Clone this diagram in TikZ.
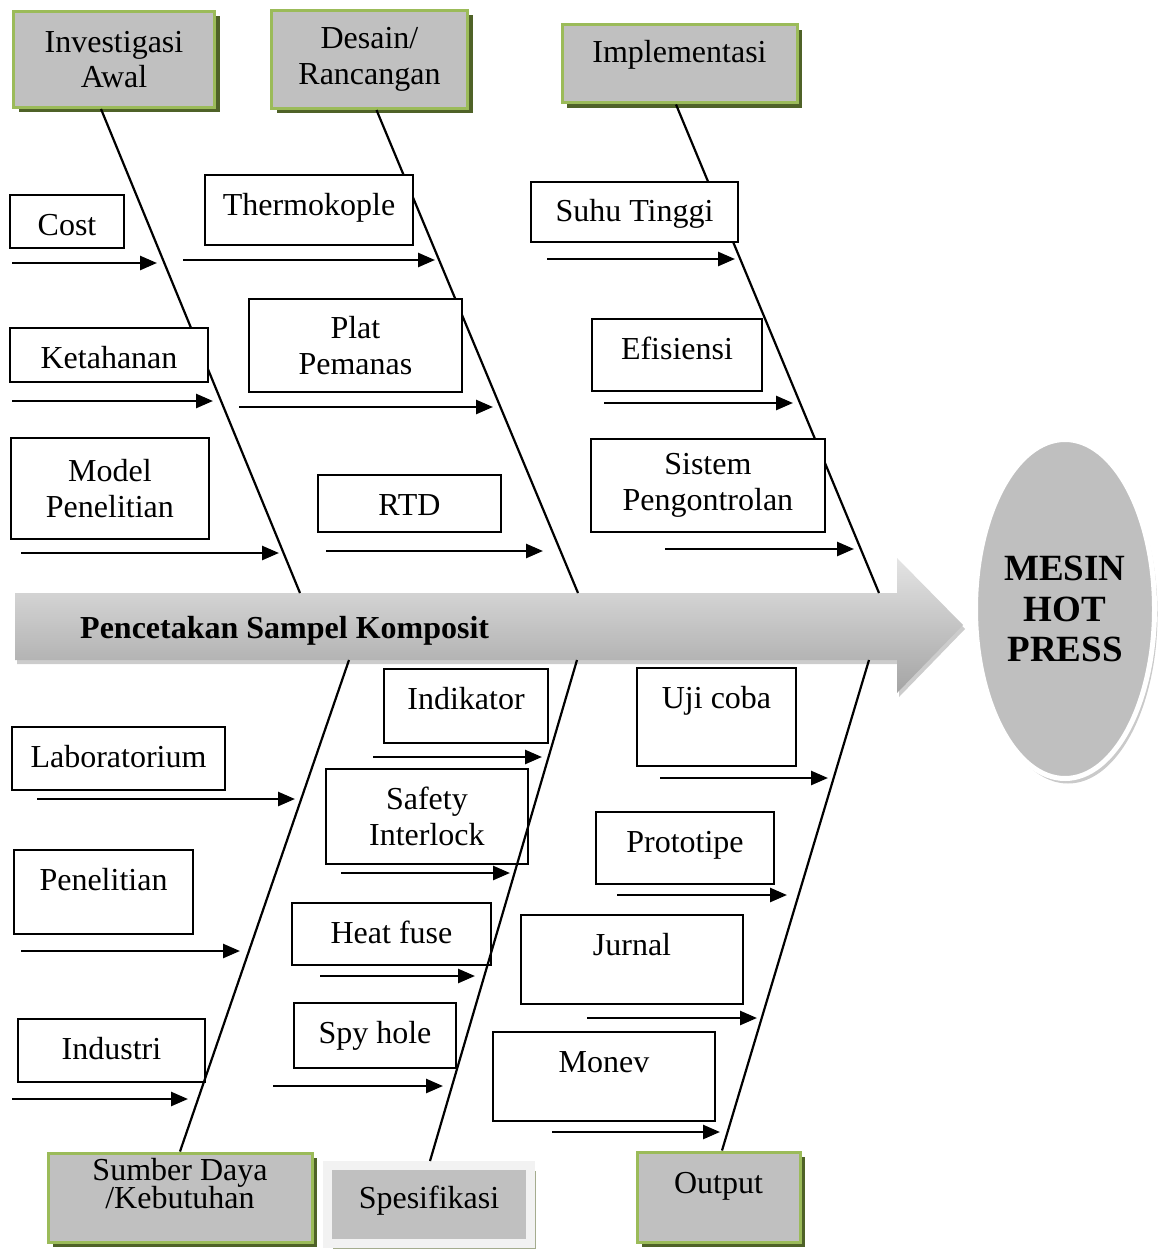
\documentclass[tikz,border=0pt]{standalone}
\usepackage{fontspec}
\setmainfont{Liberation Serif}
\usetikzlibrary{arrows.meta,positioning,calc,shadows,shapes.geometric}
\definecolor{catfill}{HTML}{C0C0C0}
\definecolor{catline}{HTML}{9BBB59}
\definecolor{catshade}{HTML}{4F6228}
\definecolor{specline}{HTML}{F2F2F2}
\definecolor{specshade}{HTML}{A4AC8E}
\definecolor{goalfill}{HTML}{BFBFBF}
\definecolor{spinetop}{HTML}{E4E4E4}
\definecolor{spinemid}{HTML}{C2C2C2}
\definecolor{spinebot}{HTML}{A4A4A4}
\newcommand{\tightlines}{\lineskiplimit=-20pt\relax}
\tikzset{
  >={Triangle[length=17pt,width=14pt]},
  every node/.style={font=\fontsize{32}{36}\selectfont,text=black,inner sep=0pt},
  box/.style={draw=black,line width=1.8pt,fill=white,anchor=base,text height=40pt},
  mbox/.style={draw=black,line width=1.8pt,fill=white,anchor=north west,align=center},
  catbox/.style={draw=catline,line width=3pt,fill=catfill,align=center,
    drop shadow={shadow xshift=5pt,shadow yshift=-5pt,fill=catshade,opacity=1}},
  specbox/.style={draw=specline,line width=9pt,fill=catfill,anchor=base,
    drop shadow={shadow xshift=5pt,shadow yshift=-5pt,fill=specshade,opacity=1}},
  goal/.style={ellipse,draw=white,line width=5pt,fill=goalfill,align=center,
    font=\fontsize{37}{40.5}\selectfont\bfseries,
    drop shadow={shadow xshift=3pt,shadow yshift=-5pt,fill=black!35,opacity=.6}},
  bone/.style={line width=2.2pt},
  arr/.style={->,line width=2.6pt},
}

\begin{document}
\begin{tikzpicture}[x=1pt,y=-1pt]
  \useasboundingbox (0,0) rectangle (1163,1252);
  \shade[top color=spinetop,middle color=spinemid,bottom color=spinebot,
    drop shadow={shadow xshift=2pt,shadow yshift=-4pt,fill=black!40,opacity=.5}]
    (15,593) -- (897,593) -- (897,558) -- (963,625) -- (897,693) -- (897,660) -- (15,660) -- cycle;
  \node[font=\fontsize{32}{36}\selectfont\bfseries,anchor=base west] (spine) at (80,638) {Pencetakan Sampel Komposit};
  \coordinate (s1) at (300,593);
  \coordinate (s2) at (578,593);
  \coordinate (s3) at (879,593);
  \coordinate (s4) at (349,660);
  \coordinate (s5) at (577,660);
  \coordinate (s6) at (869,660);

  \node[catbox,anchor=north west,minimum width=201pt,minimum height=96pt,font=\fontsize{32}{35}\selectfont] (inv) at (12,10) {Investigasi\\Awal};
  \node[catbox,anchor=north west,minimum width=196pt,minimum height=98pt] (desain) at (270,9) {Desain/\\Rancangan};
  \node[catbox,anchor=base,minimum width=235pt,text height=38pt,text depth=40pt] (impl) at (679.5,63) {Implementasi};
  \draw[bone] ([xshift=-13pt]inv.south) -- (s1);
  \draw[bone] ([xshift=7pt]desain.south) -- (s2);
  \draw[bone] ([xshift=-3.5pt]impl.south) -- (s3);

  \node[box,minimum width=114pt,text depth=13pt] (cost) at (67,235) {Cost};
  \node[box,minimum width=198pt,text depth=14pt] (keta) at (109,368) {Ketahanan};
  \node[mbox,minimum width=198pt,minimum height=101pt] (model) at (10,437) {Model\\Penelitian};
  \node[box,minimum width=208pt,text depth=30pt] (thermo) at (309,215) {Thermokople};
  \node[mbox,minimum width=213pt,minimum height=93pt] (plat) at (248,298) {Plat\\Pemanas};
  \node[box,minimum width=183pt,text depth=17pt] (rtd) at (409.5,515) {RTD};
  \node[box,minimum width=207pt,text depth=20pt] (suhu) at (634.5,222) {Suhu Tinggi};
  \node[box,minimum width=170pt,text depth=32pt] (efis) at (677,359) {Efisiensi};
  \node[mbox,minimum width=234pt,minimum height=93pt] (sistem) at (590,438) {Sistem\\Pengontrolan};

  \node[catbox,anchor=base,minimum width=264pt,text height=55pt,text depth=34pt,
    font=\fontsize{32}{28}\selectfont\tightlines] (sumber) at (180,1208) {Sumber Daya\\/Kebutuhan};
  \node[specbox,minimum width=203pt,text height=42.5pt,text depth=35.5pt] (spek) at (429,1208) {Spesifikasi};
  \node[catbox,anchor=base,minimum width=163pt,text height=41pt,text depth=49pt] (output) at (718.5,1193) {Output};

  \node[box,minimum width=213pt,text depth=23pt] (lab) at (118.5,767) {Laboratorium};
  \node[box,minimum width=179pt,text depth=44pt] (pen) at (103.5,890) {Penelitian};
  \node[box,minimum width=187pt,text depth=23pt] (ind) at (111.5,1059) {Industri};
  \node[box,minimum width=164pt,text depth=34pt] (indik) at (466,709) {Indikator};
  \node[mbox,minimum width=202pt,minimum height=95pt] (safety) at (325,768) {Safety\\Interlock};
  \node[box,minimum width=199pt,text depth=22pt] (heat) at (391.5,943) {Heat fuse};
  \node[box,minimum width=162pt,text depth=25pt] (spy) at (375,1043) {Spy hole};
  \node[box,minimum width=159pt,text depth=58pt] (uji) at (716.5,708) {Uji coba};
  \node[box,minimum width=178pt,text depth=32pt] (proto) at (685,852) {Prototipe};
  \node[box,minimum width=222pt,text depth=49pt] (jurnal) at (632,955) {Jurnal};
  \node[box,minimum width=222pt,text depth=49pt] (monev) at (604,1072) {Monev};
  \draw[bone] (s4) -- (sumber.north);
  \draw[bone] (s5) -- ([xshift=1pt]spek.north);
  \draw[bone] (s6) -- ([xshift=3.5pt]output.north);

  \foreach \n/\xa/\xb/\y in {cost/12/157/263, thermo/183/435/260, suhu/547/735/259,
      keta/12/213/401, plat/239/493/407, efis/604/793/403,
      model/21/279/553, rtd/326/543/551, sistem/665/854/549,
      lab/37/295/799, pen/21/240/951, ind/12/188/1099,
      indik/373/542/757, safety/341/510/873, heat/320/475/976, spy/273/443/1086,
      uji/660/828/778, proto/617/787/895, jurnal/587/757/1018, monev/552/720/1132} {
    \coordinate (\n-a) at (\xa,\y);
    \coordinate (\n-b) at (\xb,\y);
    \draw[arr] (\n-a) -- (\n-b);
  }

  \node[goal,minimum width=179pt,minimum height=339pt] (mesin) at (1065,609) {MESIN\\HOT\\PRESS};
\end{tikzpicture}
\end{document}
